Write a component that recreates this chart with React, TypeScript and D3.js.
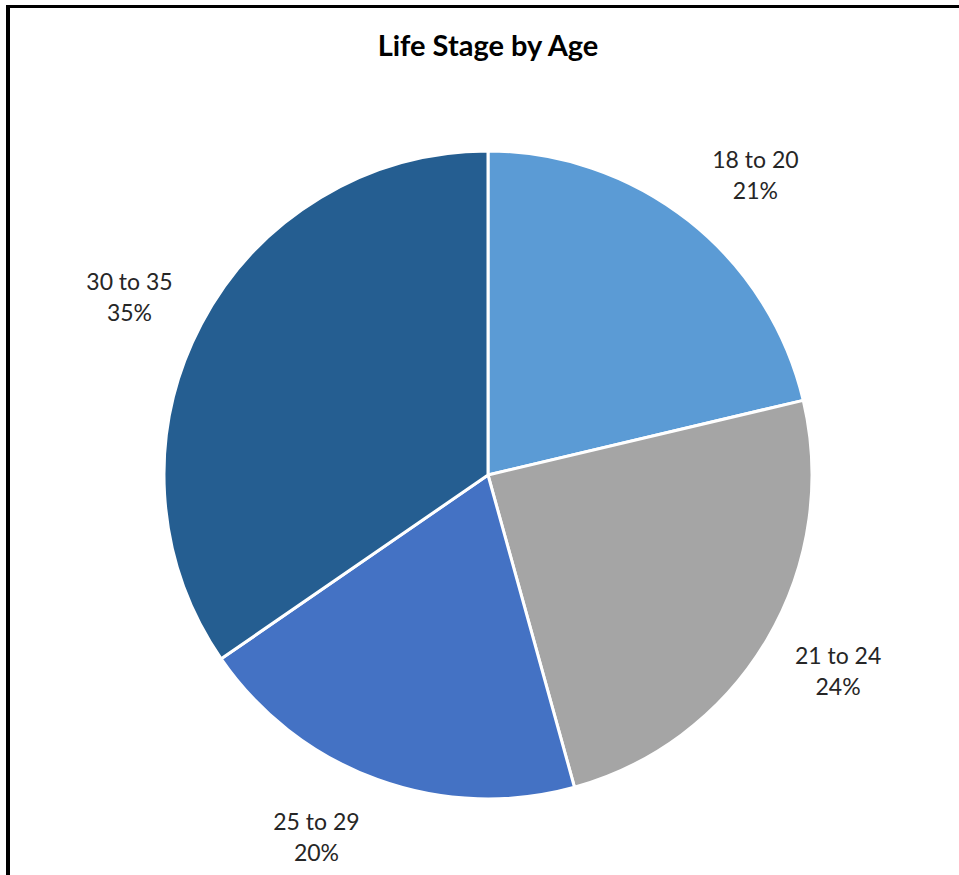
import React from "react";
import * as d3 from "d3";

const categories = ["18 to 20", "21 to 24", "25 to 29", "30 to 35"];
const values = [21.3, 24.4, 19.7, 34.6];
const percentLabels = ["21%", "24%", "20%", "35%"];
const colors = ["#5B9BD5", "#A5A5A5", "#4472C4", "#255E91"];
const title = "Life Stage by Age";

const W = 959;
const H = 875;
const cx = 488;
const cy = 475;
const R = 324;
const labelGap = 20;
const halfW = 54;
const halfH = 40;

export default function App() {
  const pie = d3.pie<number>().sort(null).value((d) => d)(values);
  const arc = d3.arc<d3.PieArcDatum<number>>().innerRadius(0).outerRadius(R);
  const anchorArc = d3
    .arc<d3.PieArcDatum<number>>()
    .innerRadius(R + labelGap)
    .outerRadius(R + labelGap);
  const font = "Lato, 'Open Sans', sans-serif";
  return (
    <svg width={W} height={H} style={{ position: "absolute", left: 0, top: 0, background: "#fff" }}>
      <rect x={0} y={0} width={W} height={H} fill="#fff" />
      <line x1={8} y1={6.5} x2={W} y2={6.5} stroke="#000" strokeWidth={3} />
      <line x1={8} y1={5} x2={8} y2={H} stroke="#000" strokeWidth={4} />
      <text x={cx} y={56} textAnchor="middle" fontFamily={font} fontWeight="bold" fontSize={29} fill="#000">
        {title}
      </text>
      <g transform={`translate(${cx},${cy})`}>
        {pie.map((p, i) => (
          <path key={categories[i]} d={arc(p) || ""} fill={colors[i]} stroke="#fff" strokeWidth={3} strokeLinejoin="round" />
        ))}
        {pie.map((p, i) => {
          const [ax, ay] = anchorArc.centroid(p);
          const mid = (p.startAngle + p.endAngle) / 2;
          const x = ax + Math.sign(Math.sin(mid)) * halfW;
          const y = ay - Math.cos(mid) * halfH;
          return (
            <text key={"l" + i} textAnchor="middle" fontFamily={font} fontSize={23} fill="#262626">
              <tspan x={x} y={y - 6}>{categories[i]}</tspan>
              <tspan x={x} y={y + 25}>{percentLabels[i]}</tspan>
            </text>
          );
        })}
      </g>
    </svg>
  );
}
